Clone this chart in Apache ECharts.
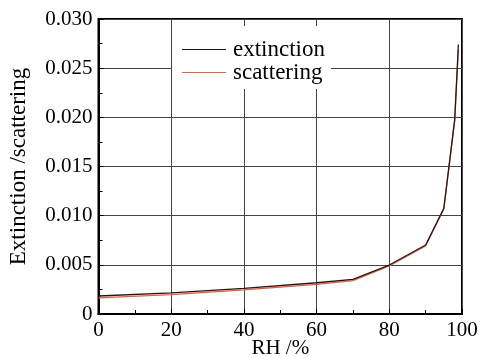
<!DOCTYPE html>
<html>
<head>
<meta charset="utf-8">
<script src="https://cdn.jsdelivr.net/npm/echarts@6/dist/echarts.min.js"></script>
<style>
  html, body { margin: 0; padding: 0; background: #fff; }
  #chart { width: 482px; height: 358px; }
</style>
</head>
<body>
<div id="chart"></div>
<script>
// Relative humidity (%) at which the coefficients were computed
const rh = [0, 20, 40, 60, 70, 80, 90, 95, 98, 99];
// Extinction and scattering coefficients
const extinction = [0.00183, 0.00214, 0.00261, 0.00318, 0.00353, 0.00498, 0.00702, 0.01075, 0.0198, 0.0274];
const scattering = [0.00165, 0.00197, 0.00245, 0.00302, 0.00340, 0.00488, 0.00692, 0.01068, 0.0197, 0.0269];
const seriesNames = ['extinction', 'scattering'];
const seriesColors = ['#1a1a1a', '#ee5a3c'];

const font = '"Liberation Serif", "Times New Roman", serif';
const chart = echarts.init(document.getElementById('chart'), null, { renderer: 'canvas' });

const pairs = (ys) => rh.map((x, i) => [x, ys[i]]);

chart.setOption({
  animation: false,
  backgroundColor: '#fff',
  textStyle: { fontFamily: font, color: '#000' },
  grid: {
    left: 98.5, right: 20, top: 19, bottom: 44,
    outerBoundsMode: 'none', containLabel: false,
    show: true, borderColor: '#000', borderWidth: 2, backgroundColor: 'transparent'
  },
  legend: {
    orient: 'vertical',
    left: 172, top: 26,
    padding: [12, 6, 5, 10],
    itemGap: 0,
    itemWidth: 44, itemHeight: 1.2,
    icon: 'rect',
    backgroundColor: '#fff',
    textStyle: { fontFamily: font, fontSize: 23, color: '#000', padding: [0, 0, 0, 2] },
    data: seriesNames
  },
  xAxis: {
    type: 'value', min: 0, max: 100, interval: 20,
    name: 'RH /%', nameLocation: 'middle', nameGap: 24, nameMoveOverlap: false,
    nameTextStyle: { fontFamily: font, fontSize: 21, color: '#000' },
    axisLine: { show: true, lineStyle: { color: '#000', width: 2 } },
    axisTick: { show: true, inside: true, length: 5, lineStyle: { color: '#000' } },
    minorTick: { show: true, splitNumber: 2, length: 4, lineStyle: { color: '#000' } },
    axisLabel: { fontFamily: font, fontSize: 21, color: '#000', margin: 6 },
    splitLine: { show: true, lineStyle: { color: '#444', width: 1 } }
  },
  yAxis: {
    type: 'value', min: 0, max: 0.03, interval: 0.005,
    name: 'Extinction /scattering', nameLocation: 'middle', nameGap: 68, nameMoveOverlap: false,
    nameTextStyle: { fontFamily: font, fontSize: 23, color: '#000' },
    axisLine: { show: true, lineStyle: { color: '#000', width: 2 } },
    axisTick: { show: true, inside: true, length: 5, lineStyle: { color: '#000' } },
    minorTick: { show: true, splitNumber: 2, length: 4, lineStyle: { color: '#000' } },
    axisLabel: {
      fontFamily: font, fontSize: 21, color: '#000', margin: 6,
      formatter: (v) => (v === 0 ? '0' : v.toFixed(3))
    },
    splitLine: { show: true, lineStyle: { color: '#444', width: 1 } }
  },
  series: [
    {
      name: seriesNames[0], type: 'line', data: pairs(extinction),
      symbol: 'none', lineStyle: { color: seriesColors[0], width: 1.3 },
      itemStyle: { color: seriesColors[0] }, z: 3
    },
    {
      name: seriesNames[1], type: 'line', data: pairs(scattering),
      symbol: 'none', lineStyle: { color: seriesColors[1], width: 1.3 },
      itemStyle: { color: seriesColors[1] }, z: 2
    }
  ]
});
</script>
</body>
</html>
